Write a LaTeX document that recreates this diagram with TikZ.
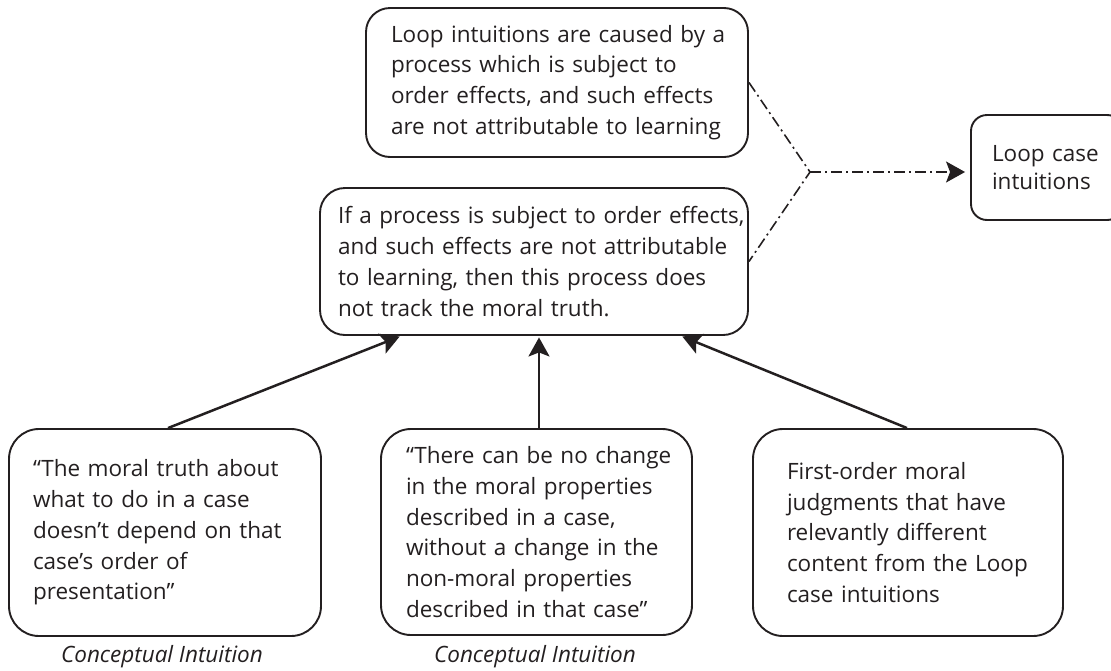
\documentclass[tikz,border=0pt]{standalone}
\usepackage{fontspec}
\setmainfont{Open Sans}
\usetikzlibrary{arrows.meta,calc}
\definecolor{ink}{HTML}{231F20}
\newcommand{\oneline}[1]{\mbox{#1}}
\begin{document}
\begin{tikzpicture}[x=1pt,y=-1pt,
  every node/.style={text=ink},
  txt/.style={font=\fontsize{22.5}{30.7}\selectfont},
  card/.style={txt,draw=ink,line width=1.9pt,align=left,anchor=center,inner ysep=0pt},
  captxt/.style={font=\fontsize{22.5}{30.7}\selectfont\itshape},
  tipa/.style={-{Stealth[length=19pt,width=21pt,inset=4pt]}},
  arr/.style={tipa,draw=ink,line width=2.5pt,shorten >=1.5pt},
  dd/.style={tipa,draw=ink,line width=1.6pt,dash pattern=on 11pt off 4pt on 2pt off 4pt}]
\useasboundingbox (0,0) rectangle (1111,670);
\clip (0,0) rectangle (1111,670);

\node[card,rounded corners=24pt,minimum width=382pt,minimum height=149pt,inner xsep=25pt,text width=332pt] (top) at (557,82.5)
  {\oneline{Loop intuitions are caused by a}\\\oneline{process which is subject to}\\\oneline{order effects, and such effects}\\\oneline{are not attributable to learning}};
\node[card,rounded corners=25pt,minimum width=428pt,minimum height=147pt,inner xsep=18pt,text width=392pt] (mid) at (534,261.5)
  {\oneline{If a process is subject to order effects,}\\\oneline{and such effects are not attributable}\\\oneline{to learning, then this process does}\\\oneline{not track the moral truth.}};
\node[card,rounded corners=16pt,minimum width=152pt,minimum height=105pt,inner xsep=21pt,text width=110pt,font=\fontsize{22.5}{28}\selectfont] (lc) at (1047,167.5)
  {\oneline{Loop case}\\\oneline{intuitions}};

\node[card,rounded corners=30pt,minimum width=312pt,minimum height=207pt,inner xsep=24pt,text width=264pt] (lb) at (165,532.5)
  {\oneline{“The moral truth about}\\\oneline{what to do in a case}\\\oneline{doesn’t depend on that}\\\oneline{case’s order of}\\\oneline{presentation”}};
\node[card,rounded corners=30pt,minimum width=311pt,minimum height=206pt,inner xsep=25pt,text width=261pt] (mb) at (536.5,532)
  {\oneline{“There can be no change}\\\oneline{in the moral properties}\\\oneline{described in a case,}\\\oneline{without a change in the}\\\oneline{non-moral properties}\\\oneline{described in that case”}};
\node[card,rounded corners=30pt,minimum width=310pt,minimum height=207pt,inner xsep=34pt,text width=242pt] (rb) at (908,532.5)
  {\oneline{First-order moral}\\\oneline{judgments that have}\\\oneline{relevantly different}\\\oneline{content from the Loop}\\\oneline{case intuitions}};

\node[captxt] (c1) at (162,657) {Conceptual Intuition};
\node[captxt] (c2) at (535,657) {Conceptual Intuition};

\draw[arr] ([xshift=3pt]lb.north) -- ([xshift=82pt]mid.south west);
\draw[arr] ([xshift=2.5pt]mb.north) -- ([xshift=2.5pt]mb.north |- mid.south);
\draw[arr] ([xshift=-1pt]rb.north) -- ([xshift=-68pt]mid.south east);

\coordinate (j) at (810,172);
\draw[draw=ink,line width=1.6pt,dash pattern=on 11pt off 4pt on 2pt off 4pt] (top.east) -- (j) -- (mid.east);
\draw[dd,shorten >=5pt] (j) -- (lc.west |- j);
\end{tikzpicture}
\end{document}
